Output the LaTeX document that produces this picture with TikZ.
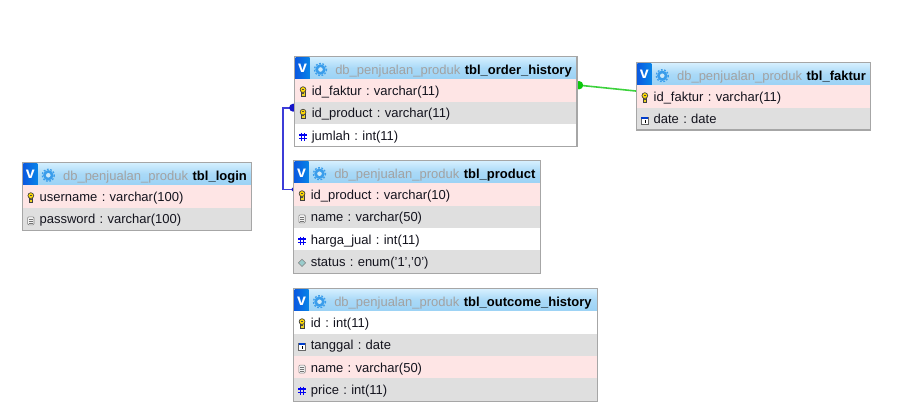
\documentclass[tikz,border=0pt]{standalone}
\usepackage{fontspec}
\setmainfont{Liberation Sans}
\frenchspacing
\pgfdeclarelayer{bg}
\pgfdeclarelayer{conn}
\pgfsetlayers{bg,conn,main}
\definecolor{rowpink}{HTML}{FEE5E5}
\definecolor{rowgray}{HTML}{DFDFDF}
\definecolor{frameg}{HTML}{A6A6A6}
\definecolor{headtop}{HTML}{D6F0FF}
\definecolor{headbot}{HTML}{9BD2F5}
\definecolor{btn}{HTML}{0A5AE0}
\definecolor{gearc}{HTML}{3A9DEB}
\definecolor{dbgray}{HTML}{A2A2A2}
\definecolor{rowtext}{HTML}{14141E}
\definecolor{linkblue}{HTML}{3C3CD8}
\definecolor{linkdot}{HTML}{1414C8}
\definecolor{linkgreen}{HTML}{3CD23C}
\definecolor{linkgdot}{HTML}{0CC80C}
\tikzset{
  x=0.75pt,y=-0.75pt,
  rowbox/.style={anchor=north west,inner ysep=0pt,outer sep=0pt,font=\fontsize{9.75pt}{11pt}\selectfont,
     text=rowtext,align=left,text height=9pt,text depth=1.5pt,minimum height=16.9pt},
  headbox/.style={anchor=north west,inner sep=0pt,outer sep=0pt,top color=headtop,bottom color=headbot,
     middle color=headbot!75!headtop},
  framebox/.style={anchor=north west,draw=frameg,line width=1.1pt,inner sep=0pt,outer sep=0pt},
  titletext/.style={anchor=base west,inner sep=0pt,font=\fontsize{9.75pt}{11pt}\selectfont},
  vbutton/.style={anchor=north west,inner sep=0pt,outer sep=0pt,left color=btn,right color=btn!75!cyan,
     text=white,font=\fontsize{12pt}{12pt}\selectfont\bfseries,minimum width=10.5pt,minimum height=16.6pt},
  keyicon/.pic={
    \draw[draw=black!75,fill=yellow!70!brown,line width=0.4pt] (-1.9,-1) rectangle (1.9,4.6);
    \draw[draw=black!75,fill=yellow!75!orange,line width=0.5pt] (0,-2) circle[radius=2.9];
    \fill[black!70] (-.8,-3) rectangle (.8,-2);
    \fill[black!70] (-.8,1) rectangle (.8,2);
  },
  numicon/.pic={
    \draw[blue!95!black,line width=0.95pt] (-1.6,-4) -- (-1.6,4.5) (1.6,-4) -- (1.6,4.5) (-3.8,-1.5) -- (3.8,-1.5) (-3.8,2) -- (3.8,2);
  },
  dateicon/.pic={
    \draw[draw=black!60,fill=white,line width=0.4pt] (-3.4,-3) rectangle (3.4,4);
    \fill[blue!70!cyan!80!black] (-3.4,-3) rectangle (3.4,-1);
    \draw[black,line width=0.5pt] (0,0) -- (0,3);
  },
  texticon/.pic={
    \draw[draw=black!50,fill=white!90!gray,line width=0.45pt,rounded corners=0.8pt] (-3.2,-3.5) rectangle (3.2,4.5);
    \draw[black!55,line width=0.4pt] (-1.8,-1.5) -- (1.8,-1.5) (-1.8,.5) -- (1.8,.5) (-1.8,2.5) -- (1.8,2.5);
  },
  enumicon/.pic={
    \draw[draw=black!50,fill=teal!40!white,line width=0.4pt] (0,-3.6) -- (3.6,0) -- (0,3.6) -- (-3.6,0) -- cycle;
  },
}
% name, x1, top, x2, db-title table
\newcommand{\tblhead}[5]{%
  \pgfmathsetmacro\hw{(#4-#2)*0.75}%
  \node[headbox,minimum width=\hw pt,minimum height=16.9pt] (#1-h) at (#2,#3) {};
  \node[vbutton] (#1-v) at (#2+1,#3+1) {v};
  \draw[gearc,line width=2.1pt] (#2+26,#3+13) circle[radius=3.7];
  \draw[gearc,line width=1pt,dash pattern=on 1.3pt off 1.2pt] (#2+26,#3+13) circle[radius=6];
  \fill[headbot!50!white] (#2+26,#3+13) circle[radius=2.2];
  \node[titletext,text=dbgray] (#1-d) at (#2+40.5,#3+18) {db\_penjualan\_produk};
  \node[titletext,text=black,font=\fontsize{9.75pt}{11pt}\selectfont\bfseries] (#1-t) at ([xshift=3pt]#1-d.base east) {#5};
}
% name, x1, top, x2, colour, icon, text
\newcommand{\tblrow}[7]{%
  \pgfmathsetmacro\rw{(#4-#2)*0.75-26}%
  \node[rowbox,fill=#5,text width=\rw pt,inner xsep=13pt] (#1) at (#2,#3) {#7};
  \pic at ([xshift=6.4pt,yshift=-1pt]#1.west) {#6};
}
\newcommand{\tblframe}[5]{%
  \pgfmathsetmacro\fw{(#4-#2)*0.75}%
  \pgfmathsetmacro\fh{(#5-#3)*0.75}%
  \node[framebox,minimum width=\fw pt,minimum height=\fh pt] (#1) at (#2,#3) {};
}
\begin{document}
\begin{tikzpicture}
\useasboundingbox (0,0) rectangle (917,415);
\begin{pgfonlayer}{bg}
\fill[white] (0,0) rectangle (917,415);
\end{pgfonlayer}

% tbl_order_history
\tblhead{oh}{294.5}{56.5}{577}{tbl\_order\_history}
\tblrow{oh-r1}{294.5}{79}{577}{rowpink}{keyicon}{id\_faktur : varchar(11)}
\tblrow{oh-r2}{294.5}{101.5}{577}{rowgray}{keyicon}{id\_product : varchar(11)}
\tblrow{oh-r3}{294.5}{124}{577}{white}{numicon}{jumlah : int(11)}
\tblframe{oh}{294.5}{56.5}{577}{146.3}

% tbl_faktur
\tblhead{fa}{636.3}{62.7}{870.7}{tbl\_faktur}
\tblrow{fa-r1}{636.3}{85}{870.7}{rowpink}{keyicon}{id\_faktur : varchar(11)}
\tblrow{fa-r2}{636.3}{107.7}{870.7}{rowgray}{dateicon}{date : date}
\tblframe{fa}{636.3}{62.7}{870.7}{130}

% tbl_login
\tblhead{lo}{22.3}{162.3}{251.7}{tbl\_login}
\tblrow{lo-r1}{22.3}{185}{251.7}{rowpink}{keyicon}{username : varchar(100)}
\tblrow{lo-r2}{22.3}{207.7}{251.7}{rowgray}{texticon}{password : varchar(100)}
\tblframe{lo}{22.3}{162.3}{251.7}{230.3}

% tbl_product
\tblhead{pr}{293.5}{160.7}{540.7}{tbl\_product}
\tblrow{pr-r1}{293.5}{183}{540.7}{rowpink}{keyicon}{id\_product : varchar(10)}
\tblrow{pr-r2}{293.5}{205.7}{540.7}{rowgray}{texticon}{name : varchar(50)}
\tblrow{pr-r3}{293.5}{228}{540.7}{white}{numicon}{harga\_jual : int(11)}
\tblrow{pr-r4}{293.5}{250.3}{540.7}{rowgray}{enumicon}{status : enum('1','0')}
\tblframe{pr}{293.5}{160.7}{540.7}{273.3}

% tbl_outcome_history
\tblhead{ou}{293.5}{288.7}{597.7}{tbl\_outcome\_history}
\tblrow{ou-r1}{293.5}{311}{597.7}{white}{keyicon}{id : int(11)}
\tblrow{ou-r2}{293.5}{333.5}{597.7}{rowgray}{dateicon}{tanggal : date}
\tblrow{ou-r3}{293.5}{356}{597.7}{rowpink}{texticon}{name : varchar(50)}
\tblrow{ou-r4}{293.5}{378}{597.7}{rowgray}{numicon}{price : int(11)}
\tblframe{ou}{293.5}{288.7}{597.7}{401.3}

% connectors, under the tables
\begin{pgfonlayer}{conn}
\coordinate (bs) at ([yshift=3.8pt,xshift=-1pt]oh-r2.west);
\coordinate (be) at ([yshift=3.6pt]pr-r1.west);
\coordinate (gs) at ([yshift=3.8pt,xshift=1.5pt]oh-r1.east);
\coordinate (ge) at ([yshift=3.8pt,xshift=1pt]fa-r1.west);
\draw[linkblue,line width=1.3pt] (bs) -- ++(-10,0) |- (be);
\fill[linkdot] (bs) circle[radius=4];
\fill[linkdot] (be) circle[radius=2];
\draw[linkgreen,line width=1.2pt] (gs) -- (ge);
\fill[linkgdot] (gs) circle[radius=4.2];
\fill[linkgdot] (ge) circle[radius=1.8];
\end{pgfonlayer}
\end{tikzpicture}
\end{document}
